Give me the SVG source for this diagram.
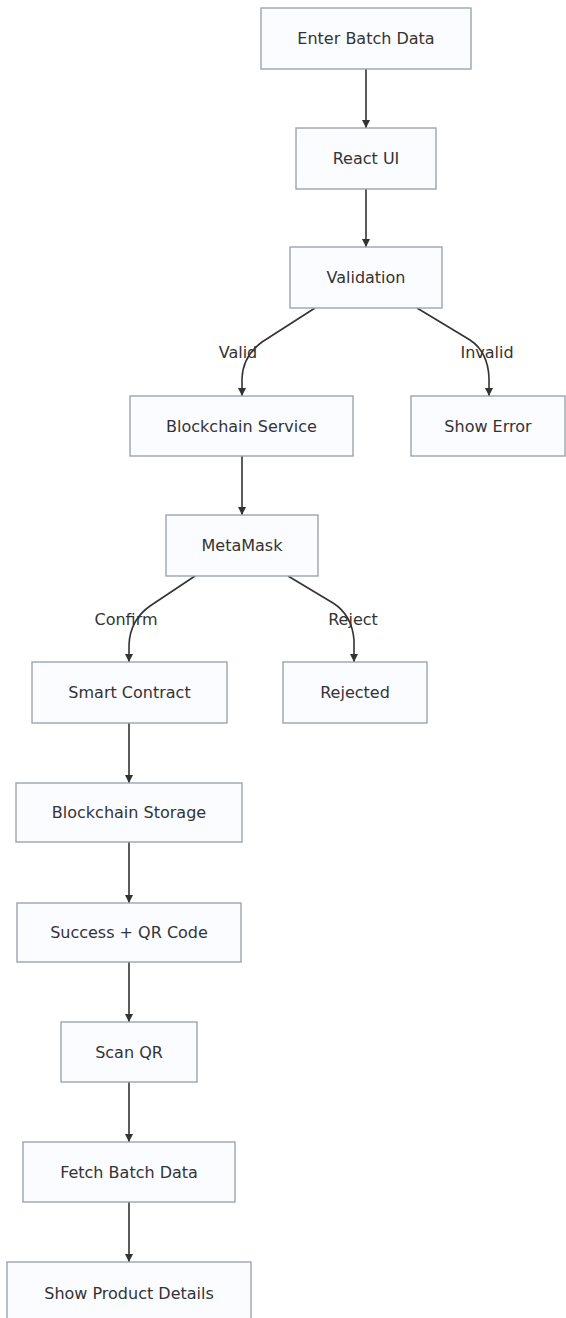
<svg xmlns="http://www.w3.org/2000/svg" width="566" height="1318" viewBox="0 0 566 1318">
  <style>
    .node rect { fill: #fbfcff; stroke: #9da3ae; stroke-width: 1.4; }
    .node text, .label { font-family: "DejaVu Sans", "Liberation Sans", sans-serif; font-size: 16px; fill: #333333; text-anchor: middle; dominant-baseline: central; }
    .edge { fill: none; stroke: #333333; stroke-width: 1.6; marker-end: url(#arrow); }
  </style>
  <defs>
    <marker id="arrow" viewBox="0 0 10 10" refX="10" refY="5" markerWidth="8" markerHeight="8" markerUnits="userSpaceOnUse" orient="auto">
      <path d="M0,0 L10,5 L0,10 z" fill="#333333"/>
    </marker>
  </defs>
  <rect width="566" height="1318" fill="#ffffff"/>

  <g id="connectors">
    <path class="edge" d="M366,69 L366,128"/>
    <path class="edge" d="M366,189 L366,247"/>
    <path class="edge" d="M315,308 L262,342 Q243,356 242,378 L242,396"/>
    <path class="edge" d="M417,308 L470,340 Q488,352 489,378 L489,396"/>
    <path class="edge" d="M242,456 L242,515"/>
    <path class="edge" d="M195,576 L150,606 Q130,620 129,645 L129,662"/>
    <path class="edge" d="M288,576 L333,603 Q352,615 354,640 L354,662"/>
    <path class="edge" d="M129,723 L129,783"/>
    <path class="edge" d="M129,842 L129,903"/>
    <path class="edge" d="M129,962 L129,1022"/>
    <path class="edge" d="M129,1082 L129,1142"/>
    <path class="edge" d="M129,1202 L129,1262"/>
    <text class="label" x="238" y="352">Valid</text>
    <text class="label" x="487" y="352">Invalid</text>
    <text class="label" x="126" y="619">Confirm</text>
    <text class="label" x="353" y="619">Reject</text>
  </g>

  <g id="enter-batch-data" class="node"><rect x="261" y="8" width="210" height="61"/><text x="366" y="38.5">Enter Batch Data</text></g>
  <g id="react-ui" class="node"><rect x="296" y="128" width="140" height="61"/><text x="366" y="158.5">React UI</text></g>
  <g id="validation" class="node"><rect x="290" y="247" width="152" height="61"/><text x="366" y="277.5">Validation</text></g>
  <g id="blockchain-service" class="node"><rect x="130" y="396" width="223" height="60"/><text x="241.5" y="426">Blockchain Service</text></g>
  <g id="show-error" class="node"><rect x="411" y="396" width="154" height="60"/><text x="488" y="426">Show Error</text></g>
  <g id="metamask" class="node"><rect x="166" y="515" width="152" height="61"/><text x="242" y="545.5">MetaMask</text></g>
  <g id="smart-contract" class="node"><rect x="32" y="662" width="195" height="61"/><text x="129.5" y="692.5">Smart Contract</text></g>
  <g id="rejected" class="node"><rect x="283" y="662" width="144" height="61"/><text x="355" y="692.5">Rejected</text></g>
  <g id="blockchain-storage" class="node"><rect x="16" y="783" width="226" height="59"/><text x="129" y="812.5">Blockchain Storage</text></g>
  <g id="success-qr" class="node"><rect x="17" y="903" width="224" height="59"/><text x="129" y="932.5">Success + QR Code</text></g>
  <g id="scan-qr" class="node"><rect x="61" y="1022" width="136" height="60"/><text x="129" y="1052">Scan QR</text></g>
  <g id="fetch-batch-data" class="node"><rect x="23" y="1142" width="212" height="60"/><text x="129" y="1172">Fetch Batch Data</text></g>
  <g id="show-product-details" class="node"><rect x="7" y="1262" width="244" height="60"/><text x="129" y="1293">Show Product Details</text></g>
</svg>
